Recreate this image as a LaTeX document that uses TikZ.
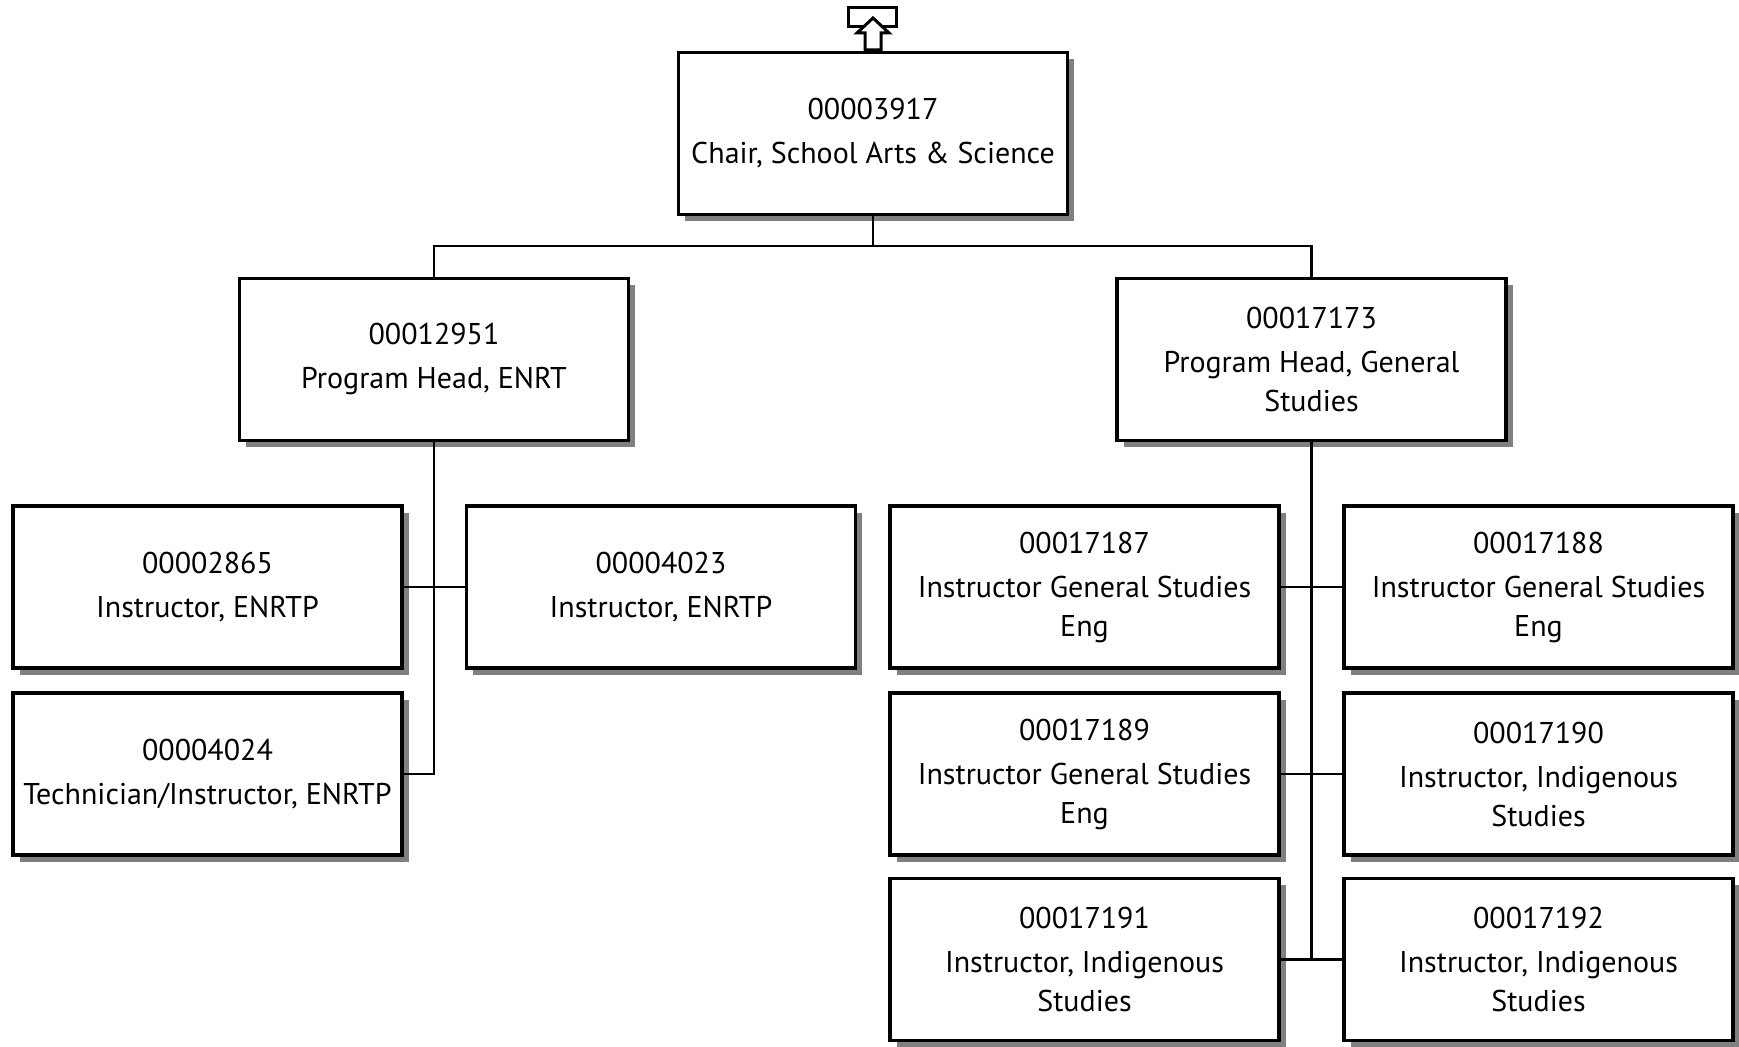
\documentclass[tikz,border=0pt]{standalone}
\usepackage{fontspec}
\setmainfont{PT Sans}
\usetikzlibrary{shadows}
\newcommand{\tightbr}{\\[-2.5pt]}
\tikzset{
  posbox/.style={draw=black, line width=1.6pt, fill=white, minimum width=194.5pt, minimum height=81pt,
    align=center, inner sep=0pt, font=\fontsize{15}{22}\selectfont,
    drop shadow={shadow xshift=3.3pt, shadow yshift=-3.3pt, fill=black!50, opacity=1}},
  conn/.style={line width=1.4pt},
}
\begin{document}
\begin{tikzpicture}[x=0.5pt,y=-0.5pt]
\useasboundingbox[fill=white] (0,0) rectangle (1739,1047);
% top
\node[posbox] (top) at (873,133.5) {00003917\\Chair, School Arts \& Science};
% level 2
\node[posbox] (enrt) at (434,359.5) {00012951\\Program Head, ENRT};
\node[posbox] (gen) at (1311.5,359.5) {00017173\\Program Head, General\tightbr Studies};
% level 3 left
\node[posbox] (a) at (207.5,587) {00002865\\Instructor, ENRTP};
\node[posbox] (b) at (661,587) {00004023\\Instructor, ENRTP};
\node[posbox] (c) at (207.5,774) {00004024\\Technician/Instructor, ENRTP};
% level 3 right
\node[posbox] (r1) at (1084.5,587) {00017187\\Instructor General Studies\tightbr Eng};
\node[posbox] (r2) at (1538.5,587) {00017188\\Instructor General Studies\tightbr Eng};
\node[posbox] (r3) at (1084.5,774) {00017189\\Instructor General Studies\tightbr Eng};
\node[posbox] (r4) at (1538.5,774) {00017190\\Instructor, Indigenous\tightbr Studies};
\node[posbox] (r5) at (1084.5,959.5) {00017191\\Instructor, Indigenous\tightbr Studies};
\node[posbox] (r6) at (1538.5,959.5) {00017192\\Instructor, Indigenous\tightbr Studies};
% connectors
\coordinate (bus) at (873,246);
\draw[conn] (top.south) -- (bus);
\draw[conn] (bus) -| (enrt.north);
\draw[conn] (bus) -| (gen.north);
\draw[conn] (enrt.south) |- (c.east);
\draw[conn] (a.east) -- (b.west);
\draw[conn] (gen.south) -- (gen.south |- r5.east);
\draw[conn] (r1.east) -- (r2.west);
\draw[conn] (r3.east) -- (r4.west);
\draw[conn] (r5.east) -- (r6.west);
% up icon
\draw[line width=1.5pt] (848,8) rectangle (896,27);
\draw[line width=1.5pt, fill=white, line join=miter] (873,18) -- (889,33) -- (881,33) -- (881,50) -- (865,50) -- (865,33) -- (857,33) -- cycle;
\end{tikzpicture}
\end{document}
